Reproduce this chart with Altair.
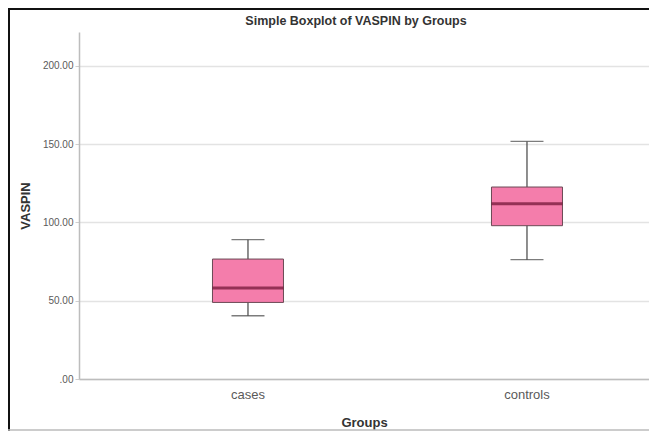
import altair as alt
import pandas as pd

title_text = "Simple Boxplot of VASPIN by Groups"
groups = ["cases", "controls"]
mins = [40.4, 76.2]
q1s = [48.9, 97.9]
medians = [58.1, 111.9]
q3s = [76.6, 122.6]
maxs = [89.0, 151.7]

tick_values = [0, 50, 100, 150, 200]
tick_labels = [".00", "50.00", "100.00", "150.00", "200.00"]

df = pd.DataFrame({"Groups": groups, "min": mins, "q1": q1s, "median": medians,
                   "q3": q3s, "max": maxs})

label_expr = " : ".join(
    f"datum.value == {v} ? '{l}'" for v, l in zip(tick_values, tick_labels)
) + " : ''"

FONT = "Liberation Sans"
PINK = "#F47DAB"

xscale = alt.Scale(paddingInner=0.5, paddingOuter=0.2715, align=0.655)
x = alt.X("Groups:N", scale=xscale, sort=groups,
          axis=alt.Axis(title="Groups", labelAngle=0, ticks=False,
                        labelFontSize=13, labelColor="#5a5a5a", labelPadding=9,
                        titleFontSize=13, titleFontWeight="bold", titleColor="#333",
                        titlePadding=15, domainColor="#BDBDBD", domainWidth=1.5,
                        grid=False))
yscale = alt.Scale(domain=[0, 221.6], nice=False, zero=True)
yaxis = alt.Axis(title="VASPIN", values=tick_values, labelExpr=label_expr,
                 labelFontSize=10, labelColor="#5a5a5a", labelPadding=2,
                 tickSize=4, tickColor="#CFCFCF", tickWidth=1,
                 titleFontSize=13, titleFontWeight="bold", titleColor="#333",
                 titlePadding=10, domainColor="#BDBDBD", domainWidth=1.5,
                 gridColor="#E3E3E3", gridWidth=1.5)

base = alt.Chart(df)

whisker = base.mark_rule(color="#444", strokeWidth=1.2).encode(
    x=x, y=alt.Y("min:Q", scale=yscale, axis=yaxis), y2="max:Q")
box = base.mark_bar(size=71, color=PINK, stroke="#6a4a55", strokeWidth=1).encode(
    x=x, y=alt.Y("q1:Q", scale=yscale), y2="q3:Q")
med = base.mark_tick(size=71, thickness=3, color="#6B1030").encode(
    x=x, y=alt.Y("median:Q", scale=yscale))
cap_lo = base.mark_tick(size=33, thickness=1.3, color="#444").encode(
    x=x, y=alt.Y("min:Q", scale=yscale))
cap_hi = base.mark_tick(size=33, thickness=1.3, color="#444").encode(
    x=x, y=alt.Y("max:Q", scale=yscale))

frame_data = alt.Data(values=[{"t": title_text}])
frame_left = alt.Chart(frame_data).mark_rule(color="#111", strokeWidth=2).encode(
    x=alt.value(-70), y=alt.value(-24), y2=alt.value(399))
frame_top = alt.Chart(frame_data).mark_rule(color="#111", strokeWidth=2).encode(
    x=alt.value(-71), x2=alt.value(570), y=alt.value(-23))
frame_bottom = alt.Chart(frame_data).mark_rule(color="#BBBBBB", strokeWidth=1.5).encode(
    x=alt.value(-71), x2=alt.value(570), y=alt.value(398))
title = alt.Chart(frame_data).mark_text(
    fontSize=12.5, fontWeight="bold", color="#333", align="center",
    baseline="alphabetic", font=FONT
).encode(text="t:N", x=alt.value(277), y=alt.value(-7))

chart = alt.layer(whisker, box, med, cap_lo, cap_hi,
                  frame_left, frame_top, frame_bottom, title).properties(
    width=570, height=347,
    autosize=alt.AutoSizeParams(type="none"),
    padding={"left": 71, "top": 24, "right": 0, "bottom": 52},
).configure(font=FONT).configure_view(stroke=None).configure_axis(
    labelFont=FONT, titleFont=FONT
)

chart.save("out.html", embed_options={"renderer": "svg", "actions": False})
